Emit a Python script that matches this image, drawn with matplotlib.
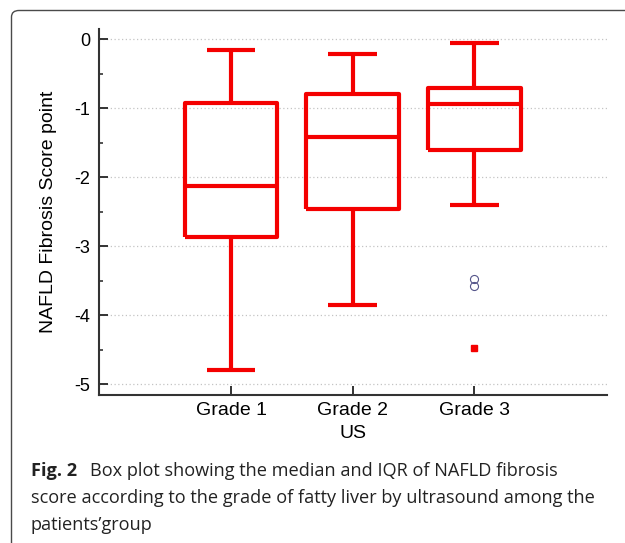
import matplotlib
matplotlib.use("Agg")
import matplotlib.pyplot as plt
from matplotlib.patches import FancyBboxPatch
from matplotlib.ticker import MultipleLocator

# values
grades = ["Grade 1", "Grade 2", "Grade 3"]
q1 = [-2.87, -2.46, -1.61]
med = [-2.13, -1.41, -0.94]
q3 = [-0.93, -0.79, -0.70]
whis_lo = [-4.79, -3.85, -2.40]
whis_hi = [-0.15, -0.22, -0.06]
outside_g3 = [-3.48, -3.575]    # small circles ("8")
far_out_g3 = [-4.48]            # red square

ylabel = "NAFLD Fibrosis Score point"
xlabel = "US"
cap_bold = "Fig. 2"
cap_lines = [
    "Box plot showing the median and IQR of NAFLD fibrosis",
    "score according to the grade of fatty liver by ultrasound among the",
    "patients\u2019group",
]

RED = "#f40000"
W, H = 625, 543

plt.rcParams["axes.unicode_minus"] = False
plt.rcParams["font.family"] = ["Liberation Sans", "DejaVu Sans"]

fig = plt.figure(figsize=(W / 100, H / 100), dpi=100)


def fx(px):
    return px / W


def fy(py):
    return 1 - py / H


# rounded frame around the figure (runs off right / bottom)
frame = FancyBboxPatch((fx(11.5), fy(549)), fx(700), fy(10.5) - fy(549),
                       boxstyle="round,pad=0,rounding_size=0.012",
                       transform=fig.transFigure, fill=False,
                       edgecolor="#4a4a4a", linewidth=1.0)
fig.add_artist(frame)

ax = fig.add_axes([fx(99), fy(395), fx(607) - fx(99), fy(29) - fy(395)])

pos = [1, 2, 3]
stats = []
for i, g in enumerate(grades):
    stats.append(dict(label=g, q1=q1[i], med=med[i], q3=q3[i],
                      whislo=whis_lo[i], whishi=whis_hi[i], fliers=[]))

lp = dict(color=RED, linewidth=3.0, solid_capstyle="butt")
ax.bxp(stats, positions=pos, widths=0.76, capwidths=0.4,
       showfliers=False, boxprops=lp, whiskerprops=lp, capprops=lp,
       medianprops=lp)

ax.plot([3] * len(outside_g3), outside_g3, linestyle="none", marker="o",
        markersize=5.8, markerfacecolor="none", markeredgecolor="#55558a",
        markeredgewidth=0.8)
ax.plot([3] * len(far_out_g3), far_out_g3, linestyle="none", marker="s",
        markersize=5, color=RED)

ax.set_xlim(-0.085, 4.09)
ax.set_ylim(-5.155, 0.149)
ax.yaxis.set_major_locator(MultipleLocator(1))
ax.yaxis.set_minor_locator(MultipleLocator(0.5))

for side in ["top", "right"]:
    ax.spines[side].set_visible(False)
for side in ["left", "bottom"]:
    ax.spines[side].set_color("#333333")
    ax.spines[side].set_linewidth(1.5)

ax.tick_params(axis="both", which="major", direction="in", length=6.5,
               width=1.4, color="#333333")
ax.tick_params(axis="y", which="minor", direction="in", length=3,
               width=1.2, color="#333333")
ax.tick_params(axis="y", labelsize=13, pad=6.5)
ax.tick_params(axis="x", labelsize=14, pad=5)

ax.grid(axis="y", linestyle=(0, (1, 2)), color="#c4c4c4", linewidth=0.9)
ax.set_axisbelow(True)

ax.set_ylabel(ylabel, fontsize=14, labelpad=12)
ax.set_xlabel(xlabel, fontsize=14, labelpad=4)

# caption, fitted to the width of its longest line
cap_font = ["Open Sans", "DejaVu Sans"]
renderer = fig.canvas.get_renderer()
probe = fig.text(0, 0, cap_lines[1], fontsize=14, family=cap_font)
wpx = probe.get_window_extent(renderer).width
probe.remove()
cap_size = 14 * 566 / wpx

t_bold = fig.text(fx(31), fy(471.5), cap_bold, fontsize=cap_size,
                  fontweight="bold", family=cap_font, va="center",
                  color="#222222")
bx = t_bold.get_window_extent(renderer).x1
fig.text(fx(bx + 13), fy(471.5), cap_lines[0], fontsize=cap_size,
         family=cap_font, va="center", color="#222222")
fig.text(fx(31), fy(498), cap_lines[1], fontsize=cap_size,
         family=cap_font, va="center", color="#222222")
fig.text(fx(31), fy(525), cap_lines[2], fontsize=cap_size,
         family=cap_font, va="center", color="#222222")

fig.savefig("out.png", dpi=100)
